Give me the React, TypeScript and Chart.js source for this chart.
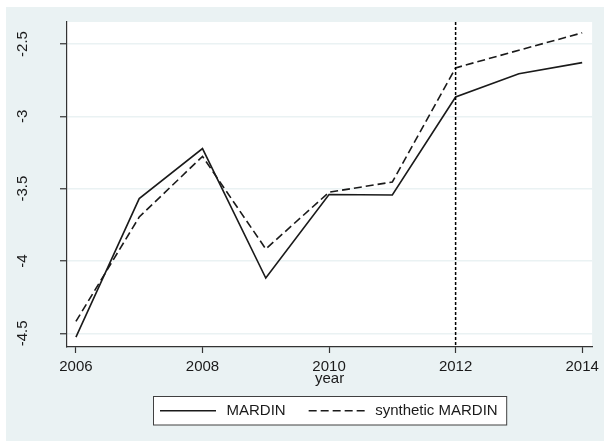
import { useEffect, useRef } from "react";
import { Chart, registerables } from "chart.js";

Chart.register(...registerables);

const years = [2006, 2007, 2008, 2009, 2010, 2011, 2012, 2013, 2014];
const mardin = [-4.526, -3.569, -3.223, -4.118, -3.54, -3.544, -2.866, -2.705, -2.629];
const syntheticMardin = [-4.418, -3.696, -3.277, -3.917, -3.525, -3.454, -2.665, -2.543, -2.423];
const xTicks = [2006, 2008, 2010, 2012, 2014];
const yTicks = [-4.5, -4, -3.5, -3, -2.5];
const yTickLabels = ["-4.5", "-4", "-3.5", "-3", "-2.5"];
const treatmentYear = 2012;
const seriesLabels = ["MARDIN", "synthetic MARDIN"];
const xTitle = "year";

const FONT = "'Liberation Sans', Arial, Helvetica, sans-serif";
const BG = "#EAF2F3";
const INK = "#1a1a1a";
const AXIS = "#333333";

const backgroundPlugin = {
  id: "stataBackground",
  beforeDraw(chart: any) {
    const { ctx, width, height, chartArea } = chart;
    ctx.save();
    ctx.fillStyle = "#ffffff";
    ctx.fillRect(0, 0, width, height);
    ctx.fillStyle = BG;
    ctx.fillRect(6, 7, width - 6, 434);
    ctx.fillStyle = "#ffffff";
    ctx.fillRect(chartArea.left, chartArea.top, chartArea.right - chartArea.left, chartArea.bottom - chartArea.top);
    ctx.restore();
  },
};

const overlayPlugin = {
  id: "stataOverlay",
  afterDatasetsDraw(chart: any) {
    const { ctx, chartArea, scales } = chart;
    const px = scales.x.getPixelForValue(treatmentYear);
    ctx.save();
    ctx.strokeStyle = "#000000";
    ctx.lineWidth = 1.5;
    ctx.setLineDash([3, 2]);
    ctx.beginPath();
    ctx.moveTo(px, chartArea.top);
    ctx.lineTo(px, chartArea.bottom);
    ctx.stroke();
    ctx.restore();
  },
  afterDraw(chart: any) {
    const { ctx, chartArea, scales } = chart;
    // rotated y tick labels
    ctx.save();
    ctx.fillStyle = INK;
    ctx.font = `15px ${FONT}`;
    ctx.textAlign = "center";
    ctx.textBaseline = "middle";
    yTicks.forEach((v, i) => {
      const py = scales.y.getPixelForValue(v);
      ctx.save();
      ctx.translate(22.5, py);
      ctx.rotate(-Math.PI / 2);
      ctx.fillText(yTickLabels[i], 0, 0);
      ctx.restore();
    });
    ctx.restore();

    // legend
    const ds = chart.data.datasets;
    ctx.save();
    ctx.font = `15px ${FONT}`;
    const w1 = ctx.measureText(ds[0].label).width;
    const w2 = ctx.measureText(ds[1].label).width;
    const padL = 6.5, lineW = 56, gap = 10.5, itemGap = 23, padR = 9;
    const total = padL + lineW + gap + w1 + itemGap + lineW + gap + w2 + padR;
    const cx = (chartArea.left + chartArea.right) / 2;
    const left = Math.round(cx - total / 2) + 0.5;
    const top = 396.5;
    const h = 28.5;
    ctx.fillStyle = "#ffffff";
    ctx.fillRect(left, top, total, h);
    ctx.strokeStyle = "#404040";
    ctx.lineWidth = 1;
    ctx.strokeRect(left, top, total, h);
    const cy = top + h / 2;
    let x = left + padL;
    ds.forEach((d: any, i: number) => {
      ctx.strokeStyle = d.borderColor;
      ctx.lineWidth = d.borderWidth;
      ctx.setLineDash(d.borderDash || []);
      ctx.beginPath();
      ctx.moveTo(x, cy);
      ctx.lineTo(x + lineW, cy);
      ctx.stroke();
      ctx.setLineDash([]);
      x += lineW + gap;
      ctx.fillStyle = INK;
      ctx.textAlign = "left";
      ctx.textBaseline = "middle";
      ctx.fillText(d.label, x, cy + 0.5);
      x += (i === 0 ? w1 : w2) + itemGap;
    });
    ctx.restore();
  },
};

export default function App() {
  const ref = useRef<HTMLCanvasElement>(null);
  useEffect(() => {
    document.body.style.margin = "0";
    Chart.defaults.font.family = FONT;
    const chart = new Chart(ref.current as HTMLCanvasElement, {
      type: "line",
      data: {
        datasets: [
          {
            label: seriesLabels[0],
            data: years.map((yr, i) => ({ x: yr, y: mardin[i] })),
            borderColor: INK,
            borderWidth: 1.6,
            pointRadius: 0,
            tension: 0,
            fill: false,
          },
          {
            label: seriesLabels[1],
            data: years.map((yr, i) => ({ x: yr, y: syntheticMardin[i] })),
            borderColor: INK,
            borderWidth: 1.6,
            borderDash: [8, 4],
            pointRadius: 0,
            tension: 0,
            fill: false,
          },
        ],
      },
      options: {
        responsive: false,
        maintainAspectRatio: false,
        animation: false,
        layout: { padding: { top: 22, right: 8, bottom: 54, left: 0 } },
        plugins: { legend: { display: false }, tooltip: { enabled: false } },
        scales: {
          x: {
            type: "linear",
            min: 2005.8588,
            max: 2014.1569,
            afterBuildTicks: (s: any) => {
              s.ticks = xTicks.map((v) => ({ value: v }));
            },
            afterFit: (s: any) => {
              s.height = 41;
            },
            grid: { drawOnChartArea: false, tickLength: 6, tickColor: AXIS, tickWidth: 1.2 },
            border: { display: true, color: AXIS, width: 1.2 },
            ticks: {
              autoSkip: false,
              maxRotation: 0,
              padding: 5,
              color: INK,
              font: { family: FONT, size: 15 },
              callback: (v: any) => String(v),
            },
            title: { display: true, text: xTitle, color: INK, font: { family: FONT, size: 15 }, padding: 0 },
          },
          y: {
            type: "linear",
            min: -4.5947,
            max: -2.3479,
            afterBuildTicks: (s: any) => {
              s.ticks = yTicks.map((v) => ({ value: v }));
            },
            afterFit: (s: any) => {
              s.width = 67;
            },
            grid: { color: BG, lineWidth: 1.5, tickLength: 7, tickColor: AXIS, tickWidth: 1.2 },
            border: { display: true, color: AXIS, width: 1.2 },
            ticks: { display: false },
          },
        },
      },
      plugins: [backgroundPlugin, overlayPlugin],
    });
    return () => chart.destroy();
  }, []);
  return (
    <div style={{ position: "fixed", left: 0, top: 0, width: 604, height: 442 }}>
      <canvas ref={ref} width={604} height={442} style={{ display: "block", width: 604, height: 442 }} />
    </div>
  );
}
